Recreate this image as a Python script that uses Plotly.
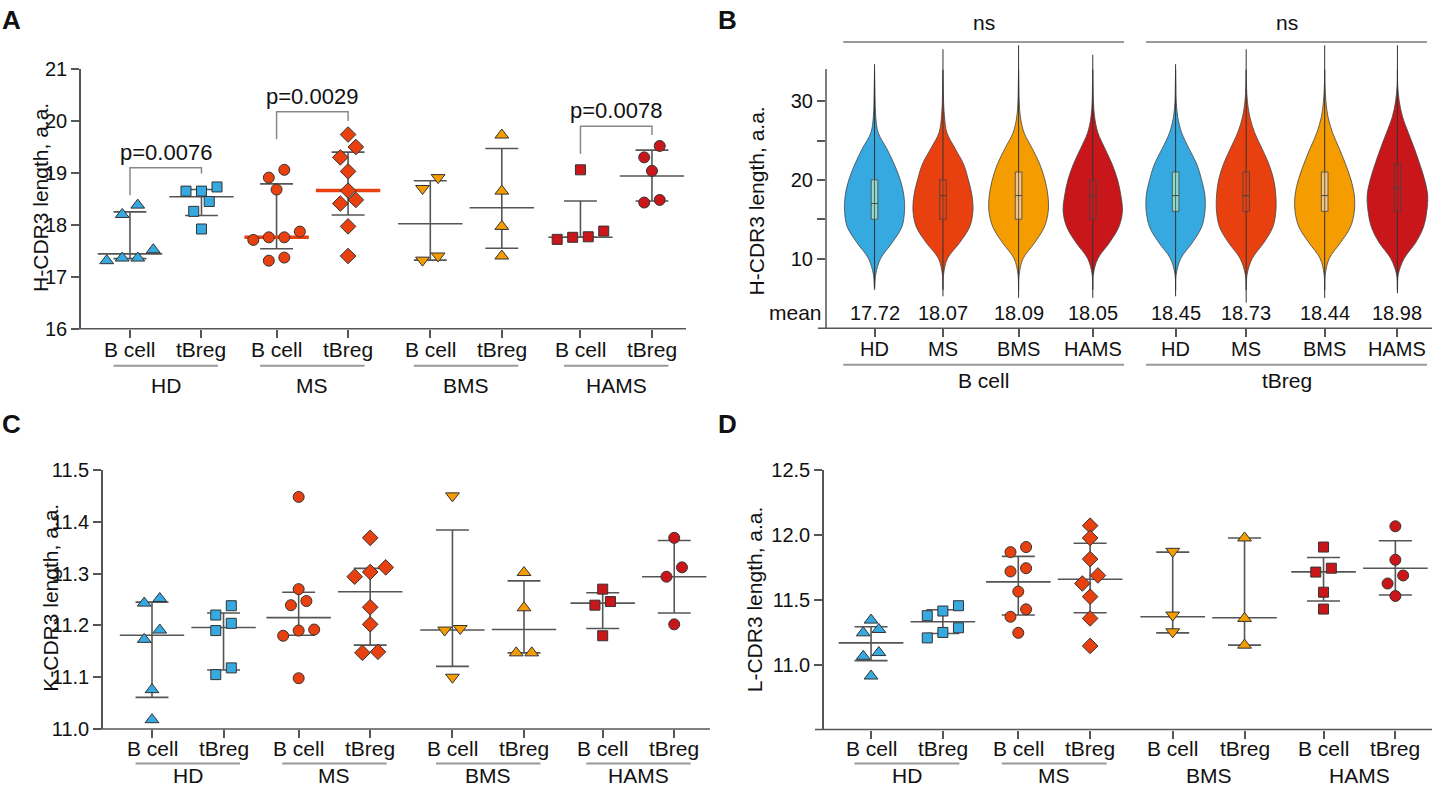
import numpy as np
import plotly.graph_objects as go

W, H = 1432, 787
FONT = 'Liberation Sans, Arial, sans-serif'
FS = 21

# ---- categories ----
GROUPS = ['HD', 'MS', 'BMS', 'HAMS']
CELLS = ['B cell', 'tBreg']
GROUP_COLORS = ['#36A9E1', '#E8400F', '#F59C00', '#C8161B']
BOX_FILLS = ['#8FD9C8', '#E8400F', '#F3C47E', '#C8161B']

# ---- panel A: H-CDR3 length per donor (HD B, HD tBreg, MS B, MS tBreg, BMS B, BMS tBreg, HAMS B, HAMS tBreg) ----
H_VALUES = [
    [17.52, 18.20, 18.38, 17.36, 17.31, 17.36],
    [18.65, 18.65, 18.73, 18.45, 18.26, 17.92],
    [18.91, 19.06, 18.68, 17.87, 17.76, 17.71, 17.76, 17.37, 17.31],
    [19.74, 19.50, 19.30, 19.03, 18.66, 18.48, 18.41, 17.97, 17.40],
    [18.70, 18.91, 17.40, 17.32],
    [19.73, 18.65, 17.97, 17.40],
    [19.06, 17.88, 17.76, 17.72, 17.77],
    [19.52, 19.30, 19.04, 18.48, 18.43],
]
H_MED = [17.44, 18.54, 17.76, 18.66, 18.02, 18.33, 17.76, 18.94]
H_HI = [18.25, 18.68, 18.79, 19.40, 18.85, 19.47, 18.46, 19.44]
H_LO = [17.35, 18.18, 17.54, 18.19, 17.32, 17.55, 17.76, 18.46]
P_LABELS = ['p=0.0076', 'p=0.0029', 'p=0.0078']
P_PAIRS = [(0, 1), (2, 3), (6, 7)]
P_TOP = [19.10, 20.18, 19.90]
P_LEFT = [18.57, 19.65, 19.37]
P_RIGHT = [18.99, 20.00, 19.73]

# ---- panel B: violins of H-CDR3 length ----
VIOLIN_Y = [6, 8, 10, 12, 14, 16, 18, 20, 22, 24, 26, 28, 30, 32, 34]
VIOLIN_W = [
    [0, 0.04, 0.20, 0.58, 0.90, 0.99, 0.97, 0.85, 0.65, 0.40, 0.12, 0.04, 0.02, 0.01, 0],
    [0, 0.02, 0.15, 0.55, 0.88, 0.99, 0.96, 0.84, 0.68, 0.40, 0.13, 0.05, 0.02, 0.01, 0],
    [0, 0.02, 0.15, 0.53, 0.85, 0.98, 0.97, 0.87, 0.70, 0.45, 0.18, 0.06, 0.02, 0.01, 0],
    [0, 0.02, 0.17, 0.55, 0.86, 0.98, 0.93, 0.82, 0.64, 0.40, 0.17, 0.06, 0.02, 0.01, 0],
    [0, 0.02, 0.17, 0.55, 0.86, 0.97, 0.97, 0.86, 0.70, 0.44, 0.20, 0.07, 0.02, 0.01, 0],
    [0, 0.03, 0.20, 0.58, 0.88, 0.98, 0.98, 0.91, 0.75, 0.52, 0.28, 0.12, 0.04, 0.01, 0],
    [0, 0.02, 0.15, 0.52, 0.85, 0.98, 0.98, 0.87, 0.69, 0.48, 0.26, 0.11, 0.04, 0.01, 0],
    [0, 0.03, 0.22, 0.60, 0.86, 0.97, 1.00, 0.90, 0.74, 0.56, 0.36, 0.17, 0.06, 0.01, 0],
]
V_MIN = [6.3, 5.2, 5.0, 5.0, 5.2, 4.4, 5.0, 5.6]
V_MAX = [34.7, 36.6, 37.1, 35.9, 34.7, 36.6, 37.1, 37.1]
V_Q1 = [15, 15, 15, 15, 16, 16, 16, 16]
V_MED = [17, 18, 18, 18, 18, 18, 18, 19]
V_Q3 = [20, 20, 21, 20, 21, 21, 21, 22]
V_MEANS = [17.72, 18.07, 18.09, 18.05, 18.45, 18.73, 18.44, 18.98]

# ---- panel C: K-CDR3 length ----
K_VALUES = [
    [11.243, 11.252, 11.191, 11.173, 11.076, 11.018],
    [11.220, 11.238, 11.204, 11.190, 11.118, 11.105],
    [11.448, 11.270, 11.247, 11.239, 11.192, 11.190, 11.180, 11.098],
    [11.369, 11.312, 11.303, 11.294, 11.235, 11.202, 11.149, 11.147],
    [11.450, 11.191, 11.194, 11.100],
    [11.302, 11.234, 11.147, 11.147],
    [11.270, 11.239, 11.246, 11.180],
    [11.369, 11.312, 11.294, 11.202],
]
K_MED = [11.181, 11.196, 11.215, 11.265, 11.191, 11.192, 11.243, 11.294]
K_HI = [11.245, 11.224, 11.264, 11.310, 11.384, 11.286, 11.263, 11.364]
K_LO = [11.061, 11.114, 11.181, 11.162, 11.121, 11.147, 11.194, 11.224]

# ---- panel D: L-CDR3 length ----
L_VALUES = [
    [11.271, 11.343, 11.245, 11.064, 11.093, 10.912],
    [11.454, 11.413, 11.377, 11.248, 11.284, 11.206],
    [11.906, 11.867, 11.718, 11.743, 11.563, 11.426, 11.369, 11.245],
    [12.071, 11.976, 11.813, 11.687, 11.625, 11.524, 11.356, 11.144],
    [11.873, 11.382, 11.253],
    [11.976, 11.356, 11.150],
    [11.906, 11.743, 11.713, 11.558, 11.428],
    [12.066, 11.808, 11.687, 11.625, 11.529],
]
L_MED = [11.168, 11.330, 11.638, 11.658, 11.369, 11.361, 11.715, 11.743]
L_HI = [11.292, 11.423, 11.834, 11.935, 11.867, 11.976, 11.826, 11.955]
L_LO = [11.031, 11.240, 11.382, 11.400, 11.245, 11.150, 11.490, 11.537]

# layout constants
POS = [0, 1, 2.05, 3.05, 4.2, 5.2, 6.3, 7.3]
POS_B = [0, 0.95, 2.0, 3.03, 4.18, 5.16, 6.25, 7.26]
SYMBOLS = ['triangle-up', 'square', 'circle', 'diamond', 'triangle-down', 'triangle-up', 'square', 'circle']
MSIZE = {'triangle-up': 12, 'triangle-down': 12, 'square': 10, 'circle': 11, 'diamond': 12}
CAT_COLORS = [c for c in GROUP_COLORS for _ in CELLS]


def px(x):
    return x / W


def py(y):
    # the page shot keeps a thin band top and bottom, so rows are placed to land on target
    return 1 - (y - 11) / 0.97 / H


def swarm(vals, thresh, step=0.217):
    # prism-like rows: close values share a row, centred on the category
    vals = np.asarray(vals)
    rows = []
    for i in np.argsort(vals, kind='stable'):
        if rows and vals[i] - vals[rows[-1][0]] <= thresh:
            rows[-1].append(i)
        else:
            rows.append([i])
    offs = np.zeros(len(vals))
    for row in rows:
        for k, i in enumerate(row):
            offs[i] = (k - (len(row) - 1) / 2) * step
    return offs


def seg_trace(xs, ys, color, width, xa, ya):
    return go.Scatter(x=xs, y=ys, mode='lines', line=dict(color=color, width=width),
                      xaxis=xa, yaxis=ya, hoverinfo='skip')


def add_dots(fig, values, med, lo, hi, xa, ya, thresh, thick_med=()):
    mx, my, tx, ty, wx, wy = [], [], [], [], [], []
    for i, p in enumerate(POS):
        if i in thick_med:
            tx += [p - 0.45, p + 0.45, None]
            ty += [med[i], med[i], None]
        else:
            mx += [p - 0.45, p + 0.45, None]
            my += [med[i], med[i], None]
        wx += [p, p, None, p - 0.23, p + 0.23, None, p - 0.23, p + 0.23, None]
        wy += [lo[i], hi[i], None, hi[i], hi[i], None, lo[i], lo[i], None]
    fig.add_trace(seg_trace(wx, wy, '#555', 1.6, xa, ya))
    fig.add_trace(seg_trace(mx, my, '#555', 1.6, xa, ya))
    if tx:
        fig.add_trace(seg_trace(tx, ty, '#E8400F', 3.5, xa, ya))
    for i, p in enumerate(POS):
        offs = swarm(values[i], thresh)
        fig.add_trace(go.Scatter(
            x=[p + o for o in offs], y=values[i], mode='markers',
            marker=dict(symbol=SYMBOLS[i], size=MSIZE[SYMBOLS[i]], color=CAT_COLORS[i],
                        line=dict(color='#333', width=1)),
            xaxis=xa, yaxis=ya, hoverinfo='skip'))


fig = go.Figure()

# A
add_dots(fig, H_VALUES, H_MED, H_LO, H_HI, 'x', 'y', 0.22, thick_med=(2, 3))
# C
add_dots(fig, K_VALUES, K_MED, K_LO, K_HI, 'x3', 'y3', 0.022)
# D
add_dots(fig, L_VALUES, L_MED, L_LO, L_HI, 'x4', 'y4', 0.085)

# B violins
VMAX = 0.42
BW = 0.046
for i, p in enumerate(POS_B):
    w = np.array(VIOLIN_W[i]) * VMAX
    xs = list(p + w) + list(p - w[::-1])
    ys = VIOLIN_Y + VIOLIN_Y[::-1]
    col = GROUP_COLORS[i % 4]
    fig.add_trace(go.Scatter(x=xs, y=ys, mode='lines', fill='toself', fillcolor=col,
                             line=dict(color='#444', width=0.8, shape='spline', smoothing=1.0),
                             xaxis='x2', yaxis='y2', hoverinfo='skip'))
    fig.add_trace(seg_trace([p, p], [V_MIN[i], V_MAX[i]], '#333', 1, 'x2', 'y2'))
    fig.add_trace(go.Scatter(x=[p - BW, p + BW, p + BW, p - BW, p - BW],
                             y=[V_Q1[i], V_Q1[i], V_Q3[i], V_Q3[i], V_Q1[i]],
                             mode='lines', fill='toself', fillcolor=BOX_FILLS[i % 4],
                             line=dict(color='#444', width=0.8), xaxis='x2', yaxis='y2',
                             hoverinfo='skip'))
    fig.add_trace(seg_trace([p, p], [V_Q1[i], V_Q3[i]], '#444', 0.8, 'x2', 'y2'))
    fig.add_trace(seg_trace([p - BW, p + BW], [V_MED[i], V_MED[i]], '#444', 1, 'x2', 'y2'))

# axes
ax = dict(showgrid=False, zeroline=False, showline=True, linecolor='#555', linewidth=1.5,
          ticks='outside', tickcolor='#555', tickwidth=1.5, ticklen=8,
          tickfont=dict(size=20, color='#111', family=FONT), fixedrange=True)
xcat = dict(ax, tickvals=POS, showticklabels=False, showline=False)

fig.update_layout(
    xaxis=dict(xcat, domain=[px(81), px(686)], range=[-0.685, 7.776], anchor='y'),
    yaxis=dict(ax, domain=[py(328), py(69)], range=[16, 21], dtick=1, anchor='x'),
    xaxis2=dict(xcat, tickvals=POS_B, domain=[px(826), 1], range=[-0.674, 7.74], anchor='y2'),
    yaxis2=dict(ax, showline=False, domain=[py(327.5), py(38.2)], range=[1.15, 38],
                tickvals=[10, 15, 20, 25, 30], ticktext=['10', '', '20', '', '30'], anchor='x2'),
    xaxis3=dict(xcat, domain=[px(103), px(710)], range=[-0.685, 7.80], anchor='y3'),
    yaxis3=dict(ax, domain=[py(727.5), py(469)], range=[11.0, 11.5], dtick=0.1,
                tickformat='.1f', anchor='x3'),
    xaxis4=dict(xcat, domain=[px(824), 1], range=[-0.655, 7.81], anchor='y4'),
    yaxis4=dict(ax, domain=[py(728), py(469)], range=[10.5, 12.5],
                tickvals=[11, 11.5, 12, 12.5], tickformat='.1f', anchor='x4'),
)

shapes = []
ann = []


def text(x, y, s, xref='paper', yref='paper', size=FS, **kw):
    ann.append(dict(x=x, y=y, xref=xref, yref=yref, text=s, showarrow=False,
                    yanchor='middle', font=dict(size=size, color='#111', family=FONT), **kw))


# x-axis lines start a little left of the y-axis, as in the original
for ya, x0, x1 in [('y', 73, 686), ('y2', 818, 1432), ('y3', 94, 710), ('y4', 815, 1432)]:
    shapes.append(dict(type='line', xref='paper', yref=f'{ya} domain', x0=px(x0), x1=px(x1),
                       y0=0, y1=0, line=dict(color='#555', width=1.5)))

# B y-axis line stops at the top of the scale
shapes.append(dict(type='line', xref='x2 domain', yref='y2', x0=0, x1=0, y0=1.15, y1=34.1,
                   line=dict(color='#555', width=1.5)))

# category + group labels on dot panels
for xr, cat_y, line_y, grp_y, line_groups in [('x', 349, 365, 381, range(4)),
                                               ('x3', 747, 762, 770, range(4)),
                                               ('x4', 747, 762, 770, range(2))]:
    for i, p in enumerate(POS):
        text(p, py(cat_y), CELLS[i % 2], xref=xr)
    for g in range(4):
        c = (POS[2 * g] + POS[2 * g + 1]) / 2
        if g in line_groups:
            shapes.append(dict(type='line', xref=xr, yref='paper', x0=c - 0.73, x1=c + 0.73,
                               y0=py(line_y), y1=py(line_y), line=dict(color='#999', width=2)))
        text(c, py(grp_y) - 4 / H, GROUPS[g], xref=xr)

# B labels
for i, p in enumerate(POS_B):
    text(p, py(348), GROUPS[i % 4], xref='x2', size=20)
    text(p, 3.1, f'{V_MEANS[i]:.2f}', xref='x2', yref='y2', size=20)
text(px(795.5), 3.1, 'mean', yref='y2')
for k, cell in enumerate(CELLS):
    c = (POS_B[4 * k] + POS_B[4 * k + 3]) / 2
    shapes.append(dict(type='line', xref='x2', yref='paper', x0=c - 1.95, x1=c + 1.95,
                       y0=py(364), y1=py(364), line=dict(color='#999', width=2)))
    text(c, py(380), cell, xref='x2')
    shapes.append(dict(type='line', xref='x2', yref='paper', x0=c - 1.95, x1=c + 1.95,
                       y0=py(42), y1=py(42), line=dict(color='#777', width=1.5)))
    text(c, py(22), 'ns', xref='x2')

# p-value brackets in A
for (a, b), lab, top, yl, yr in zip(P_PAIRS, P_LABELS, P_TOP, P_LEFT, P_RIGHT):
    x0, x1 = POS[a], POS[b]
    shapes.append(dict(type='path', xref='x', yref='y',
                       path=f'M {x0},{yl} L {x0},{top} L {x1},{top} L {x1},{yr}',
                       line=dict(color='#888', width=1.5)))
    text((x0 + x1) / 2, top + 0.3, lab, xref='x', yref='y', size=22)

# axis titles
text(px(27), py(197), 'H-CDR3 length, a.a.', textangle=-90)
text(px(756), py(201), 'H-CDR3 length, a.a.', textangle=-90)
text(px(37), py(597), 'K-CDR3 length, a.a.', textangle=-90)
text(px(754), py(598), 'L-CDR3 length, a.a.', textangle=-90)

# panel letters
for lab, x, y in [('A', 0, 20), ('B', 716, 20), ('C', 0, 423), ('D', 716, 423)]:
    text(px(x), py(y), f'<b>{lab}</b>', size=26, xanchor='left')

fig.update_layout(width=W, height=H, margin=dict(l=0, r=0, t=0, b=0),
                  paper_bgcolor='white', plot_bgcolor='white', showlegend=False,
                  shapes=shapes, annotations=ann, font=dict(family=FONT))

# pin the plot to the page corner so the page is exactly the figure
fig.write_html('out.html', config={'displayModeBar': False},
               post_script="document.body.style.margin='0';document.body.style.overflow='hidden';"
                           "var d=document.getElementById('{plot_id}');d.style.position='absolute';"
                           "d.style.top='0px';d.style.left='0px';")
